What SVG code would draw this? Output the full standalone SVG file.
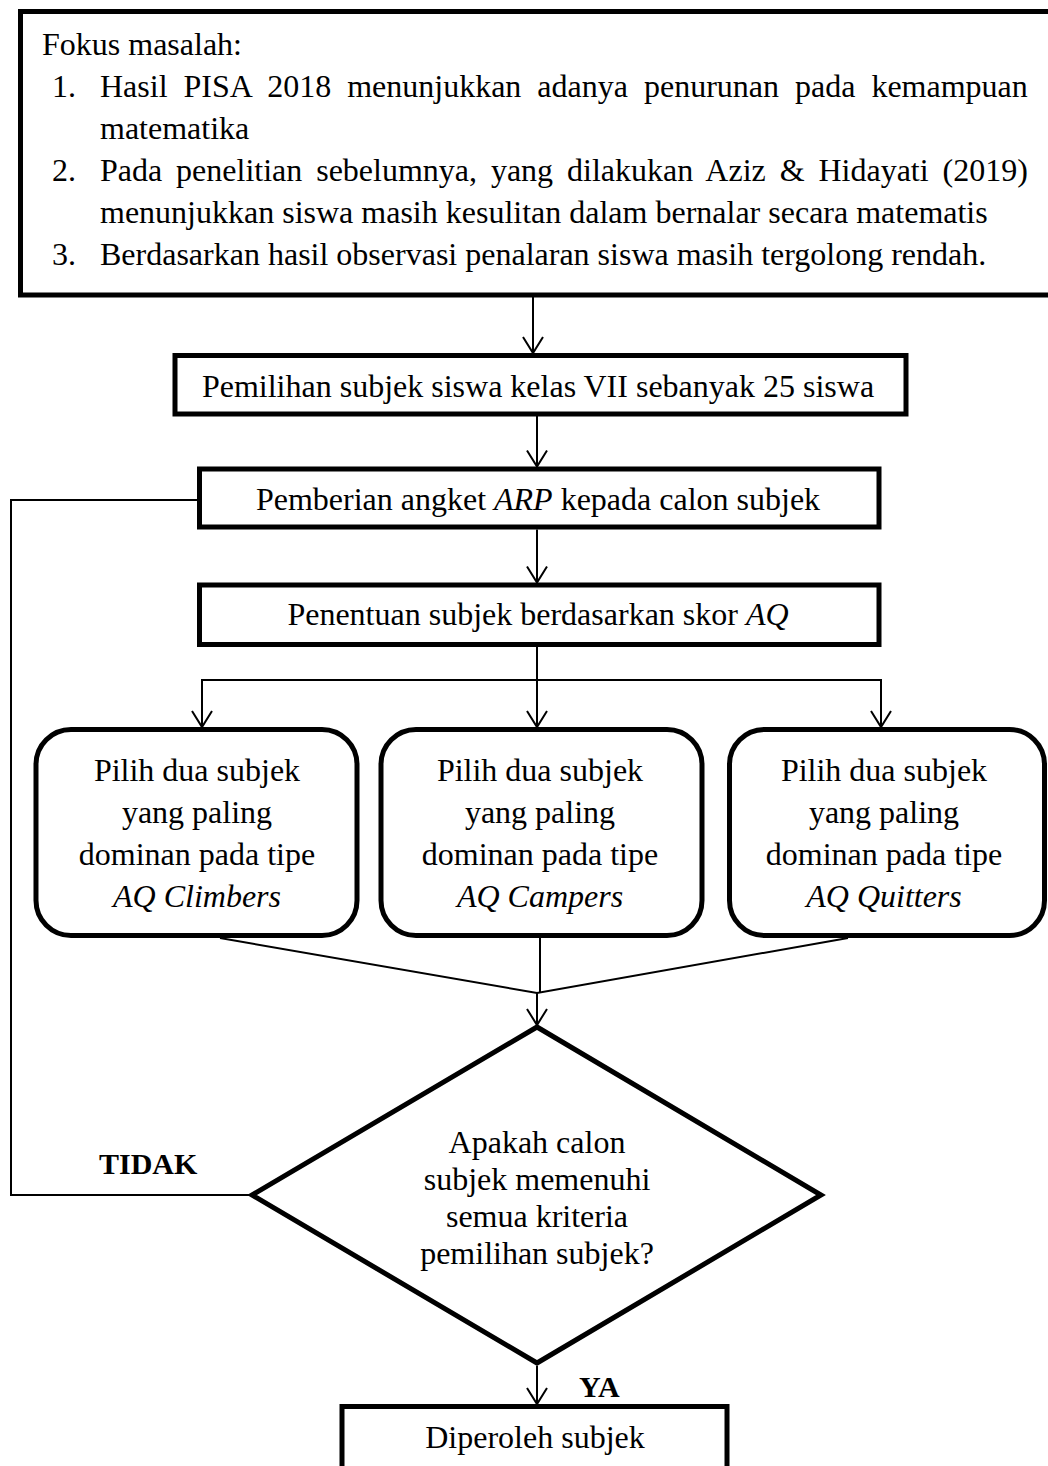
<svg xmlns="http://www.w3.org/2000/svg" width="1048" height="1466" viewBox="0 0 1048 1466">
  <defs>
    <marker id="arrow" markerUnits="userSpaceOnUse" markerWidth="24" markerHeight="24" viewBox="-18 -12 20 24" refX="0" refY="0" orient="auto">
      <path d="M -16 -10 L 0 0 L -16 10" fill="none" stroke="#000" stroke-width="2"/>
    </marker>
    <style>
      .box { fill: #fff; stroke: #000; stroke-width: 5; }
      .link { fill: none; stroke: #000; stroke-width: 2; }
      text { font-family: "Liberation Serif", "Times New Roman", serif; font-size: 32px; fill: #000; }
      .c { text-anchor: middle; }
      .i { font-style: italic; }
      .b { font-weight: bold; font-size: 30px; }
    </style>
  </defs>
  <rect width="1048" height="1466" fill="#fff"/>

  <!-- problem focus -->
  <g id="fokus">
    <rect class="box" x="20.5" y="11.5" width="1060" height="283.5"/>
    <text x="42" y="55">Fokus masalah:</text>
    <text x="52" y="97">1.</text>
    <text x="100" y="97" word-spacing="8">Hasil PISA 2018 menunjukkan adanya penurunan pada kemampuan</text>
    <text x="100" y="139">matematika</text>
    <text x="52" y="181">2.</text>
    <text x="100" y="181" word-spacing="5.9">Pada penelitian sebelumnya, yang dilakukan Aziz &amp; Hidayati (2019)</text>
    <text x="100" y="223">menunjukkan siswa masih kesulitan dalam bernalar secara matematis</text>
    <text x="52" y="265">3.</text>
    <text x="100" y="265">Berdasarkan hasil observasi penalaran siswa masih tergolong rendah.</text>
  </g>

  <g id="pemilihan">
    <rect class="box" x="175" y="355.5" width="731" height="58.5"/>
    <text class="c" x="538" y="397">Pemilihan subjek siswa kelas VII sebanyak 25 siswa</text>
  </g>

  <g id="angket">
    <rect class="box" x="199.5" y="469" width="679.5" height="58"/>
    <text class="c" x="538" y="510">Pemberian angket <tspan class="i">ARP</tspan> kepada calon subjek</text>
  </g>

  <g id="penentuan">
    <rect class="box" x="199.5" y="585" width="679.5" height="59.5"/>
    <text class="c" x="538" y="625">Penentuan subjek berdasarkan skor <tspan class="i">AQ</tspan></text>
  </g>

  <g id="climbers">
    <rect class="box" x="36" y="729.5" width="321" height="206" rx="35" ry="35"/>
    <text class="c" x="197" y="781">Pilih dua subjek</text>
    <text class="c" x="197" y="823">yang paling</text>
    <text class="c" x="197" y="865">dominan pada tipe</text>
    <text class="c i" x="197" y="907">AQ Climbers</text>
  </g>

  <g id="campers">
    <rect class="box" x="381" y="729.5" width="321" height="206" rx="35" ry="35"/>
    <text class="c" x="540" y="781">Pilih dua subjek</text>
    <text class="c" x="540" y="823">yang paling</text>
    <text class="c" x="540" y="865">dominan pada tipe</text>
    <text class="c i" x="540" y="907">AQ Campers</text>
  </g>

  <g id="quitters">
    <rect class="box" x="729.5" y="729.5" width="315" height="206" rx="35" ry="35"/>
    <text class="c" x="884" y="781">Pilih dua subjek</text>
    <text class="c" x="884" y="823">yang paling</text>
    <text class="c" x="884" y="865">dominan pada tipe</text>
    <text class="c i" x="884" y="907">AQ Quitters</text>
  </g>

  <g id="keputusan">
    <polygon class="box" points="537,1027 821,1195 537,1363 252,1195"/>
    <text class="c" x="537" y="1153">Apakah calon</text>
    <text class="c" x="537" y="1190">subjek memenuhi</text>
    <text class="c" x="537" y="1227">semua kriteria</text>
    <text class="c" x="537" y="1264">pemilihan subjek?</text>
  </g>

  <g id="hasil">
    <rect class="box" x="342" y="1406.5" width="385" height="80"/>
    <text class="c" x="535" y="1448">Diperoleh subjek</text>
  </g>

  <!-- connectors -->
  <g id="connectors">
    <line class="link" x1="533" y1="297" x2="533" y2="353" marker-end="url(#arrow)"/>
    <line class="link" x1="537" y1="416" x2="537" y2="466.5" marker-end="url(#arrow)"/>
    <line class="link" x1="537" y1="529.5" x2="537" y2="582.5" marker-end="url(#arrow)"/>
    <line class="link" x1="537" y1="647" x2="537" y2="727" marker-end="url(#arrow)"/>
    <line class="link" x1="202" y1="680" x2="881" y2="680"/>
    <line class="link" x1="202" y1="679" x2="202" y2="727" marker-end="url(#arrow)"/>
    <line class="link" x1="881" y1="679" x2="881" y2="727" marker-end="url(#arrow)"/>
    <polyline class="link" points="220,938 537,993 848,938"/>
    <line class="link" x1="540" y1="938" x2="540" y2="993"/>
    <line class="link" x1="537" y1="993" x2="537" y2="1025" marker-end="url(#arrow)"/>
    <line class="link" x1="537" y1="1366" x2="537" y2="1404" marker-end="url(#arrow)"/>
    <polyline class="link" points="250,1195 11,1195 11,500 197,500"/>
  </g>

  <text class="b" x="99" y="1174">TIDAK</text>
  <text class="b" x="579" y="1397">YA</text>
</svg>
